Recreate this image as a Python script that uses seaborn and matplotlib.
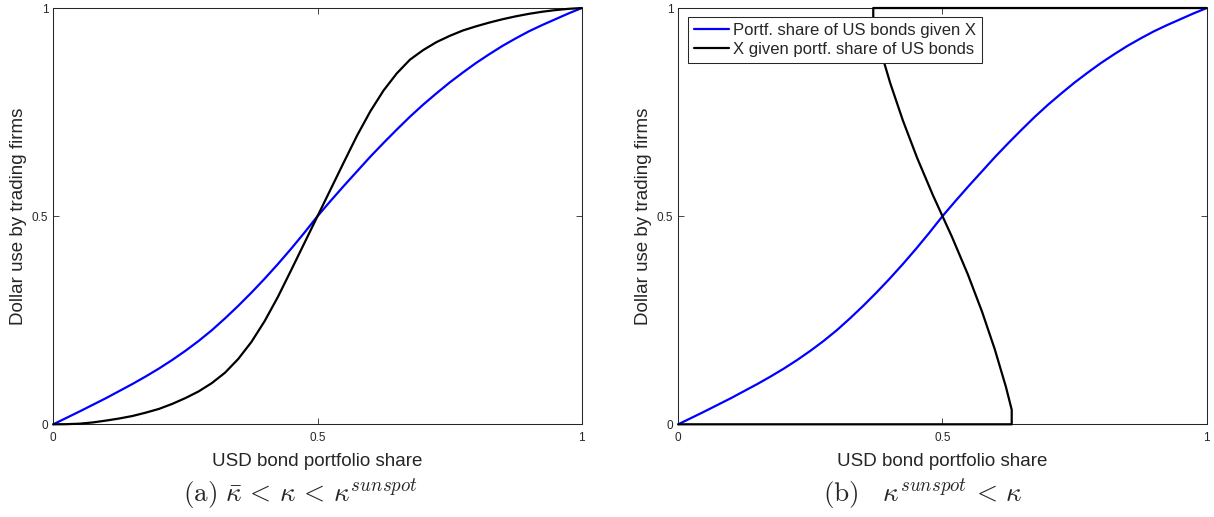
import numpy as np
import pandas as pd
import matplotlib
matplotlib.use("Agg")
import matplotlib.pyplot as plt
import seaborn as sns

# ---- data -------------------------------------------------------------
share_grid = [0.000, 0.025, 0.050, 0.075, 0.100, 0.125, 0.150, 0.175, 0.200, 0.225,
              0.250, 0.275, 0.300, 0.325, 0.350, 0.375, 0.400, 0.425, 0.450, 0.475,
              0.500, 0.525, 0.550, 0.575, 0.600, 0.625, 0.650, 0.675, 0.700, 0.725,
              0.750, 0.775, 0.800, 0.825, 0.850, 0.875, 0.900, 0.925, 0.950, 0.975,
              1.000]

# portfolio share of US bonds given dollar use X (blue, both panels)
blue_curve = [0.000, 0.0155, 0.031, 0.047, 0.063, 0.080, 0.097, 0.115, 0.134, 0.1545,
              0.1765, 0.2002, 0.226, 0.2545, 0.2846, 0.3164, 0.3498, 0.3849, 0.4216, 0.4600,
              0.500, 0.537, 0.573, 0.608, 0.643, 0.676, 0.708, 0.739, 0.768, 0.795,
              0.821, 0.845, 0.868, 0.889, 0.909, 0.927, 0.944, 0.959, 0.973, 0.987,
              1.000]

# dollar use given portfolio share, panel (a)
black_curve_a = [0.000, 0.0003, 0.0015, 0.0045, 0.009, 0.014, 0.020, 0.028, 0.037, 0.049,
                 0.063, 0.079, 0.099, 0.124, 0.157, 0.198, 0.248, 0.306, 0.370, 0.435,
                 0.500, 0.565, 0.630, 0.694, 0.752, 0.802, 0.843, 0.876, 0.899, 0.918,
                 0.933, 0.946, 0.956, 0.965, 0.973, 0.980, 0.986, 0.991, 0.995, 0.998,
                 1.000]

# dollar use given portfolio share, panel (b) (multi-valued: traced along the path)
black_b_x = [0.000, 0.631, 0.631, 0.626, 0.620, 0.613, 0.606, 0.599, 0.591, 0.583,
             0.575, 0.566, 0.557, 0.548, 0.538, 0.528, 0.518, 0.509, 0.500,
             0.491, 0.482, 0.472, 0.462, 0.452, 0.443, 0.434, 0.425, 0.417, 0.409,
             0.401, 0.394, 0.387, 0.380, 0.374, 0.369, 0.369, 1.000]
black_b_y = [0.000, 0.000, 0.035, 0.060, 0.090, 0.120, 0.150, 0.180, 0.210, 0.240,
             0.270, 0.300, 0.330, 0.360, 0.390, 0.420, 0.450, 0.475, 0.500,
             0.525, 0.550, 0.580, 0.610, 0.640, 0.670, 0.700, 0.730, 0.760, 0.790,
             0.820, 0.850, 0.880, 0.910, 0.940, 0.965, 1.000, 1.000]

tick_values = [0, 0.5, 1]
tick_labels = ["0", "0.5", "1"]

label_blue = "Portf. share of US bonds given X"
label_black = "X given portf. share of US bonds"
xlabel = "USD bond portfolio share"
ylabel = "Dollar use by trading firms"
caption_a = r"$\mathrm{(a)}\ \bar{\kappa}\,<\,\kappa\,<\,\kappa^{sunspot}$"
caption_b = r"$\mathrm{(b)}\ \ \ \kappa^{sunspot}\,<\,\kappa$"

# ---- style ------------------------------------------------------------
sns.set_theme(style="white")
plt.rcParams["font.family"] = ["Liberation Sans", "DejaVu Sans"]
plt.rcParams["mathtext.fontset"] = "cm"

DARK = "#262626"
LW = 1.6

fig = plt.figure(figsize=(12.14, 5.17), dpi=100)
ax_a = fig.add_axes([0.0439, 0.1793, 0.4353, 0.8052])
ax_b = fig.add_axes([0.5587, 0.1793, 0.4353, 0.8052])

df_a = pd.DataFrame({"x": share_grid, "blue": blue_curve, "black": black_curve_a})
df_b = pd.DataFrame({"x": black_b_x, "y": black_b_y})

sns.lineplot(data=df_a, x="x", y="blue", ax=ax_a, color="#0000ff", lw=LW,
             estimator=None, sort=False, legend=False)
sns.lineplot(data=df_a, x="x", y="black", ax=ax_a, color="black", lw=LW,
             estimator=None, sort=False, legend=False)

sns.lineplot(data=df_a, x="x", y="blue", ax=ax_b, color="#0000ff", lw=LW,
             estimator=None, sort=False, label=label_blue)
sns.lineplot(data=df_b, x="x", y="y", ax=ax_b, color="black", lw=LW,
             estimator=None, sort=False, label=label_black)

for ax in (ax_a, ax_b):
    for ln in ax.get_lines():
        ln.set_clip_on(False)
        ln.set_zorder(3)
        ln.set_solid_joinstyle("round")
    ax.set_xlim(0, 1)
    ax.set_ylim(0, 1)
    ax.set_xticks(tick_values)
    ax.set_xticklabels(tick_labels)
    ax.set_yticks(tick_values)
    ax.set_yticklabels(tick_labels)
    ax.tick_params(axis="both", which="both", direction="in", length=4, width=0.6,
                   colors=DARK, labelsize=8.5, top=True, right=True, bottom=True, left=True)
    ax.tick_params(axis="x", pad=5.5)
    ax.tick_params(axis="y", pad=3.5)
    for sp in ax.spines.values():
        sp.set_visible(True)
        sp.set_color(DARK)
        sp.set_linewidth(0.75)
    ax.set_xlabel(xlabel, fontsize=13.5, color=DARK)
    ax.set_ylabel(ylabel, fontsize=13.5, color=DARK)
    ax.xaxis.set_label_coords(0.5, -0.069)
    ax.yaxis.set_label_coords(-0.05, 0.5)
    ax.set_facecolor("white")

leg = ax_b.legend(loc="upper left", bbox_to_anchor=(0.019, 0.978), borderaxespad=0,
                  fontsize=12, handlelength=2.1, handletextpad=0.25, borderpad=0.35,
                  labelspacing=0.25, frameon=True, fancybox=False, framealpha=1)
leg.get_frame().set_edgecolor(DARK)
leg.get_frame().set_linewidth(0.75)

fig.text(300 / 1214, 1 - 502 / 517, caption_a, ha="center", va="baseline", fontsize=19.5)
fig.text(923 / 1214, 1 - 502 / 517, caption_b, ha="center", va="baseline", fontsize=19.5)

fig.savefig("out.png", dpi=100, facecolor="white")
